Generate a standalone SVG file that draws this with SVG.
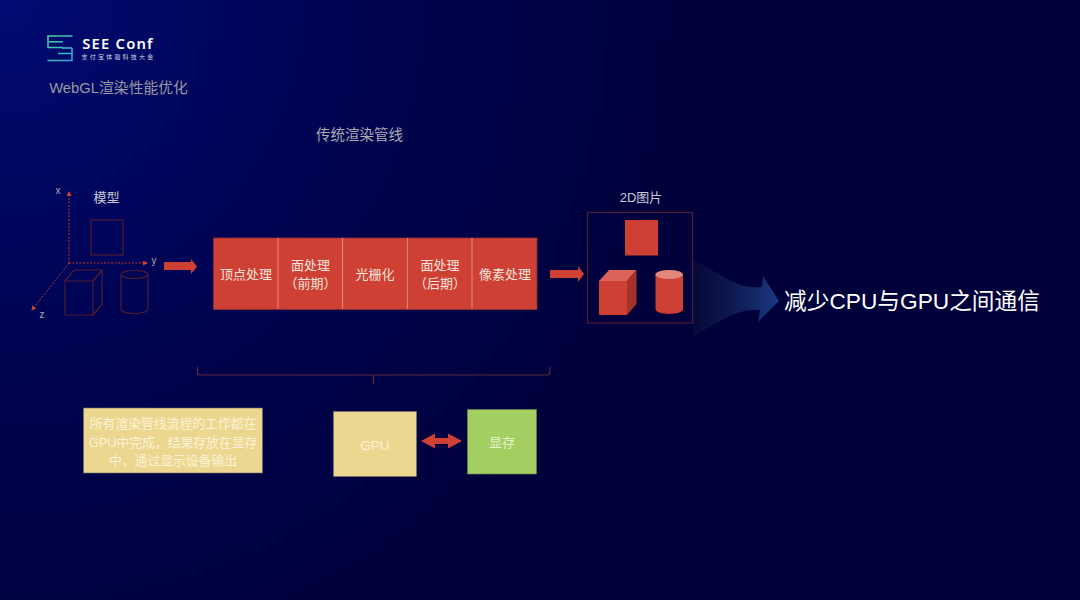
<svg xmlns="http://www.w3.org/2000/svg" width="1080" height="600" viewBox="0 0 1080 600">
<style>
text{font-family:"Liberation Sans","Noto Sans CJK SC",sans-serif;text-anchor:middle}
.cjk{font-family:"Noto Sans CJK SC",sans-serif}
.out{fill:none;stroke:#4e1c33;stroke-width:1.2}
.red{fill:#cf4034}
.w{fill:#f4e3dc;font-size:13px}
.g{fill:#c9c9d3;font-size:13px}
.sep{stroke:#e37f74;stroke-width:1.2}
.ax{fill:#a9a9b9;font-size:10px}
.n{fill:#fbf3d8;font-size:12.800px}
</style>
<defs>
<radialGradient id="bg" gradientUnits="userSpaceOnUse" cx="0" cy="0" r="720">
<stop offset="0" stop-color="#000b72"/><stop offset=".5" stop-color="#000350"/><stop offset="1" stop-color="#00003a"/>
</radialGradient>
<linearGradient id="big" gradientUnits="userSpaceOnUse" x1="693" y1="0" x2="779" y2="0">
<stop offset="0" stop-color="#0b1038" stop-opacity=".5"/><stop offset="1" stop-color="#1c3a84"/>
</linearGradient>
<linearGradient id="logo" gradientUnits="userSpaceOnUse" x1="47" y1="36" x2="72" y2="61">
<stop offset="0" stop-color="#48d69a"/><stop offset="1" stop-color="#3aa6dc"/>
</linearGradient>
<marker id="tip" markerWidth="6" markerHeight="6" refX="4" refY="2.500" orient="auto" markerUnits="userSpaceOnUse"><path d="M0 0L5 2.500L0 5Z" fill="#cf4034"/></marker>
</defs>
<rect width="1080" height="600" fill="url(#bg)"/>
<g id="logo-mark" fill="none" stroke="url(#logo)" stroke-width="1.500">
<path d="M72.500 36H48V47.500H63"/><path d="M49 41.800H63"/><path d="M58 53.500H72V60.500H47.500"/><path d="M72 48V53.500M62 48H72"/>
</g>
<g id="title">
<text x="118" y="49.300" fill="#fff" font-size="14.800" font-weight="600" letter-spacing="1.200" style="font-family:'Noto Sans',sans-serif">SEE Conf</text>
<text x="118.500" y="59" fill="#d5d8e5" font-size="6" letter-spacing="2.200" class="cjk">支付宝体验科技大会</text>
<text x="118.500" y="93" fill="#9a9a9e" font-size="14.800">WebGL渲染性能优化</text>
<text x="359.500" y="140" fill="#ababaf" font-size="14.500">传统渲染管线</text>
</g>
<g id="model">
<text x="106.500" y="202" class="g">模型</text>
<text x="58" y="194" class="ax">x</text>
<text x="154" y="264" class="ax">y</text>
<text x="42" y="318" class="ax">z</text>
<g class="out"><rect x="91" y="220" width="32" height="35"/>
<path d="M65 281H93V315H65ZM65 281L74 270H102L93 281M102 270V304L93 315"/>
<path d="M121 274.500V309C121 315 148 315 148 309V274.500"/><ellipse cx="134.500" cy="274.500" rx="13.500" ry="4"/></g>
</g>
<g id="connectors">
<g fill="none" stroke="#b5392f" stroke-width="1" stroke-dasharray="2 1.500">
<path d="M69 263V192" marker-end="url(#tip)"/><path d="M69 263H147" marker-end="url(#tip)"/><path d="M69 263L32 310" marker-end="url(#tip)"/>
</g>
<path class="red" d="M164 262H191V259L197 266.500L191 274V270H164Z"/>
<path class="red" d="M550 270H578V266L584 274L578 282V278H550Z"/>
<path class="red" d="M421 441L435 433.500V438H448V433.500L462 441L448 448.500V444H435V448.500Z"/>
<path fill="url(#big)" d="M693 260C720 272 735 290 762 287L763 276L779 301L758 322L760 310C735 308 715 325 693 337Z"/>
<path fill="none" stroke="#5a2a3c" stroke-width="1.200" d="M197.500 367V372Q197.500 375 200 375H547Q550 375 550 372V367M373.500 375V384"/>
</g>
<g id="pipeline">
<rect class="red" x="213.500" y="238" width="323.500" height="71.500" stroke="#8f2d3c" stroke-width=".8"/>
<path class="sep" d="M278 238V309M342.500 238V309M407.500 238V309M472 238V309"/>
<text x="246" y="279" class="w">顶点处理</text>
<text x="310.500" y="270" class="w">面处理</text><text x="310.500" y="288" class="w">（前期）</text>
<text x="375" y="279" class="w">光栅化</text>
<text x="440" y="270" class="w">面处理</text><text x="440" y="288" class="w">（后期）</text>
<text x="505" y="279" class="w">像素处理</text>
</g>
<g id="image-2d">
<text x="641" y="202" class="g">2D图片</text>
<rect class="out" x="587.500" y="212.500" width="105" height="110.500"/>
<rect class="red" x="625" y="220" width="33" height="35.500"/>
<path class="red" d="M599 281H627V315H599Z"/><path fill="#db6359" d="M599 281L609 270H636.500L627 281Z"/><path fill="#a63328" d="M627 281L636.500 270V304L627 315Z"/>
<path class="red" d="M655.500 274.500V309C655.500 315.500 683 315.500 683 309V274.500Z"/><ellipse cx="669.200" cy="274.500" rx="13.700" ry="4.500" fill="#e2877e"/>
</g>
<g id="result"><text x="912" y="309" fill="#fff" font-size="22.700">减少CPU与GPU之间通信</text></g>
<g id="note">
<rect x="83.500" y="408" width="179" height="65" fill="#ebd78f" stroke="#6e6a62" stroke-width=".6"/>
<text x="173" y="428" class="n">所有渲染管线流程的工作都在</text>
<text x="173" y="447" class="n">GPU中完成，结果存放在显存</text>
<text x="173" y="465" class="n">中，通过显示设备输出</text>
</g>
<g id="gpu"><rect x="333.500" y="411.500" width="83" height="65" fill="#ebd78f" stroke="#7b776b" stroke-width=".6"/>
<text x="375" y="450" fill="#fbf3d8" font-size="13.500">GPU</text></g>
<g id="vram"><rect x="467.500" y="409.500" width="69" height="64.500" fill="#a3ce62" stroke="#6a8a4e" stroke-width=".6"/>
<text x="502" y="447" fill="#e6f3cb" font-size="13">显存</text></g>
</svg>
